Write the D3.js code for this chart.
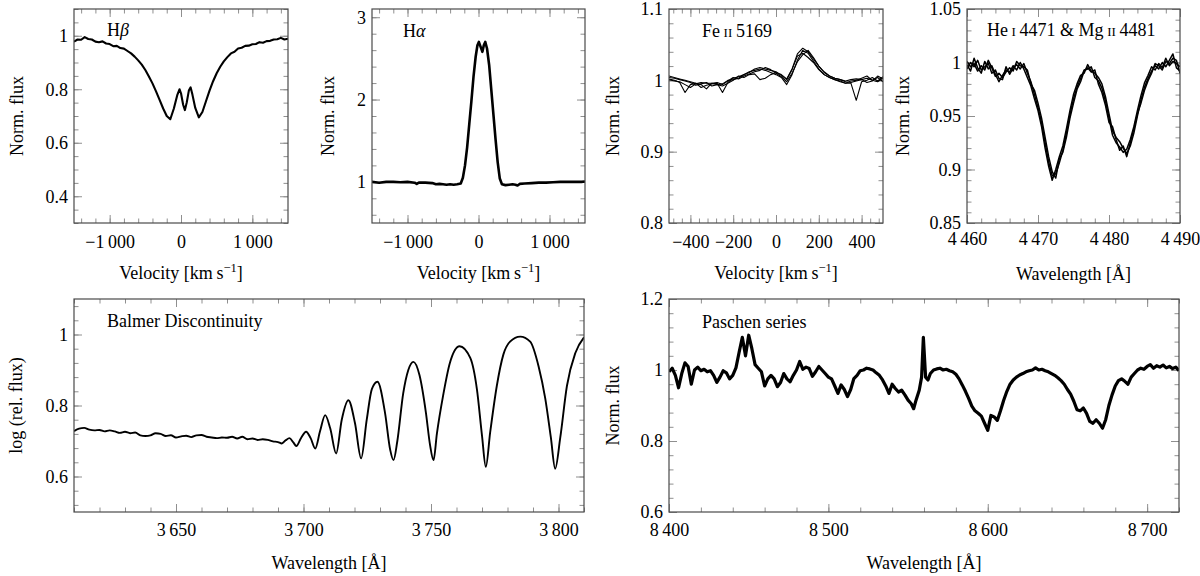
<!DOCTYPE html>
<html><head><meta charset="utf-8">
<script src="https://cdn.jsdelivr.net/npm/d3@7"></script>
<style>body{margin:0;background:#fff} svg{display:block} text{font-family:"Liberation Serif","Times New Roman",serif;}</style>
</head><body><svg id="c" width="1200" height="576"></svg>
<script>
// ---------------- DATA ----------------
// H beta
const hbVel = [-1500,-1450,-1400,-1350,-1300,-1250,-1200,-1150,-1100,-1050,-1000,-950,-900,-850,-800,-750,-700,-650,-600,-550,-500,-450,-400,-350,-300,-250,-200,-150,-100,-50,-20,0,30,55,80,110,135,160,200,250,300,350,400,450,500,550,600,650,700,750,800,850,900,950,1000,1050,1100,1150,1200,1250,1300,1350,1400,1450,1500];
const hbFlux = [0.978,0.986,0.985,0.995,0.988,0.986,0.978,0.976,0.979,0.971,0.969,0.961,0.962,0.954,0.952,0.943,0.934,0.922,0.908,0.892,0.872,0.848,0.822,0.792,0.760,0.728,0.700,0.688,0.728,0.780,0.800,0.785,0.742,0.722,0.750,0.795,0.807,0.780,0.730,0.695,0.715,0.755,0.795,0.830,0.860,0.884,0.904,0.920,0.934,0.940,0.952,0.955,0.962,0.963,0.968,0.969,0.976,0.974,0.980,0.981,0.986,0.987,0.992,0.986,0.989];
// H alpha
const haVel = [-1500,-1400,-1300,-1200,-1100,-1000,-900,-870,-840,-750,-650,-600,-550,-500,-450,-400,-350,-300,-250,-220,-190,-160,-130,-100,-70,-40,-15,5,30,55,75,95,120,150,180,210,240,270,300,330,380,430,480,520,550,580,650,750,850,950,1050,1150,1250,1350,1450,1500];
const haFlux = [1.000,0.990,1.000,1.000,0.995,1.000,0.990,0.975,0.990,0.990,0.985,0.970,0.975,0.970,0.965,0.970,0.965,0.970,0.980,1.050,1.200,1.420,1.700,1.980,2.280,2.520,2.660,2.700,2.640,2.580,2.660,2.700,2.620,2.420,2.120,1.820,1.520,1.240,1.040,0.970,0.960,0.965,0.970,0.965,0.955,0.975,0.980,0.985,0.990,0.990,0.995,1.000,1.000,1.000,1.000,1.005];
// Fe II 5169 (four epochs)
const feVel = [-500,-475,-450,-425,-400,-375,-350,-325,-300,-275,-250,-225,-200,-175,-150,-125,-100,-75,-50,-25,0,25,50,75,100,125,150,175,200,225,250,275,300,325,350,375,400,425,450,475,500];
const feFlux1 = [1.002,1.000,0.997,0.983,0.994,0.996,0.990,0.993,0.995,0.996,0.983,0.997,1.003,1.005,1.008,1.012,1.014,1.016,1.014,1.011,1.008,1.004,0.994,1.008,1.028,1.042,1.038,1.027,1.016,1.008,1.004,1.001,0.999,0.996,0.996,0.972,0.998,1.000,1.004,0.999,1.005];
const feFlux2 = [1.004,1.003,1.001,0.999,0.997,0.993,0.995,0.997,0.992,0.994,0.995,1.000,1.001,1.003,1.008,1.011,1.016,1.018,1.016,1.014,1.012,1.007,1.001,1.015,1.034,1.038,1.032,1.025,1.015,1.008,1.004,1.001,0.998,0.996,0.999,1.000,1.003,1.006,1.000,1.004,0.998];
const feFlux3 = [1.001,0.999,0.998,0.994,0.990,0.995,0.997,0.996,0.996,0.994,0.992,0.996,1.000,1.006,1.004,1.008,1.009,1.001,1.003,1.008,1.011,1.008,1.002,1.016,1.037,1.045,1.040,1.030,1.020,1.012,1.006,1.003,1.001,0.999,1.001,1.002,1.001,0.997,0.999,1.006,1.002];
const feFlux4 = [1.006,1.004,1.002,1.000,0.998,0.996,0.994,0.988,0.996,0.997,0.994,0.999,1.004,1.002,1.006,1.009,1.012,1.014,1.018,1.015,1.010,1.005,0.998,1.010,1.026,1.036,1.042,1.032,1.020,1.011,1.006,1.003,1.001,0.998,0.997,0.999,1.001,1.003,1.000,0.998,1.003];
// He I 4471 & Mg II 4481 (three epochs)
const heWave = [4460,4460.5,4461,4461.5,4462,4462.5,4463,4463.5,4464,4464.5,4465,4465.5,4466,4466.5,4467,4467.5,4468,4468.5,4469,4469.5,4470,4470.5,4471,4471.5,4472,4472.5,4473,4473.5,4474,4474.5,4475,4475.5,4476,4476.5,4477,4477.5,4478,4478.5,4479,4479.5,4480,4480.5,4481,4481.5,4482,4482.5,4483,4483.5,4484,4484.5,4485,4485.5,4486,4486.5,4487,4487.5,4488,4488.5,4489,4489.5,4490];
const heFlux1 = [0.998,0.992,1.004,0.995,0.990,1.001,0.994,0.997,0.989,0.982,0.988,0.993,0.991,0.997,0.993,1.000,0.994,0.986,0.978,0.966,0.955,0.940,0.920,0.903,0.890,0.900,0.912,0.922,0.938,0.955,0.970,0.980,0.988,0.990,0.998,0.992,0.990,0.986,0.980,0.968,0.952,0.936,0.930,0.926,0.920,0.915,0.922,0.934,0.950,0.965,0.977,0.985,0.992,0.997,0.994,1.000,0.996,1.002,1.008,0.995,0.992];
const heFlux2 = [0.994,1.000,0.996,1.002,0.993,0.996,0.999,0.990,0.993,0.985,0.984,0.996,0.989,0.995,0.998,0.994,0.999,0.990,0.982,0.970,0.958,0.944,0.925,0.907,0.894,0.896,0.906,0.918,0.934,0.951,0.966,0.977,0.985,0.993,0.994,0.996,0.986,0.983,0.976,0.964,0.948,0.932,0.925,0.921,0.916,0.919,0.928,0.940,0.955,0.969,0.981,0.988,0.996,0.993,0.999,0.995,1.004,0.997,1.001,0.999,0.996];
const heFlux3 = [1.001,0.996,0.999,0.992,0.997,0.993,1.002,0.995,0.987,0.990,0.986,0.991,0.995,0.992,1.001,0.997,0.996,0.993,0.980,0.974,0.962,0.948,0.930,0.912,0.898,0.892,0.910,0.916,0.930,0.948,0.962,0.975,0.982,0.992,0.995,0.991,0.993,0.980,0.972,0.960,0.944,0.940,0.928,0.918,0.922,0.912,0.925,0.938,0.952,0.962,0.974,0.983,0.990,0.999,0.997,0.993,1.001,0.999,1.004,1.002,0.990];
// Balmer discontinuity
const baWave = [3610,3612,3614,3616,3618,3620,3622,3624,3626,3628,3630,3632,3634,3636,3638,3640,3642,3644,3646,3648,3650,3652,3654,3656,3658,3660,3662,3664,3666,3668,3670,3672,3674,3676,3678,3680,3682,3684,3686,3688,3690,3691.5,3693,3694.5,3696,3697.2,3699,3701,3702.8,3704.6,3706.5,3708.5,3710.5,3712.8,3715,3717.6,3720.2,3722.6,3724.8,3726.8,3729,3732,3734,3735.3,3736.8,3739.1,3741.1,3743.1,3745.5,3748,3749.6,3751,3752.3,3754.8,3757.4,3761.2,3765.4,3768,3770,3771.5,3773.2,3775.8,3778.4,3781,3785,3788.9,3792.2,3794.8,3797,3798.7,3800.7,3803.3,3806.6,3810];
const baFlux = [0.728,0.735,0.737,0.732,0.730,0.731,0.727,0.730,0.727,0.723,0.726,0.722,0.724,0.716,0.714,0.716,0.722,0.720,0.714,0.716,0.710,0.713,0.715,0.711,0.716,0.717,0.712,0.710,0.708,0.710,0.709,0.712,0.707,0.712,0.705,0.707,0.703,0.705,0.703,0.699,0.697,0.693,0.702,0.708,0.696,0.686,0.708,0.726,0.708,0.679,0.728,0.773,0.735,0.665,0.760,0.815,0.750,0.651,0.760,0.846,0.867,0.778,0.675,0.646,0.700,0.834,0.900,0.923,0.885,0.780,0.690,0.646,0.720,0.830,0.920,0.967,0.934,0.846,0.715,0.627,0.724,0.855,0.944,0.980,0.994,0.980,0.910,0.820,0.710,0.622,0.710,0.855,0.948,0.992];
// Paschen series
const paWave = [8400,8402,8404,8406,8408,8410,8412,8414,8416,8418,8420,8422,8424,8426,8428,8430,8432,8434,8436,8438,8440,8442,8444,8446,8448,8450,8452,8454,8456,8458,8460,8462,8464,8466,8468,8470,8472,8474,8476,8478,8480,8482,8484,8486,8488,8490,8492,8494,8496,8498,8500,8502,8504,8506,8508,8510,8512,8514,8516,8518,8520,8522,8524,8526,8528,8530,8532,8534,8536,8538,8540,8542,8544,8546,8548,8550,8552,8553.5,8555,8557,8558.5,8559.6,8561,8562.5,8564,8566,8568,8570,8572,8574,8576,8578,8580,8582,8584,8586,8588,8590,8592,8594,8596,8598,8600,8602,8604,8606,8608,8610,8612,8614,8616,8618,8620,8622,8624,8626,8628,8630,8632,8634,8636,8638,8640,8642,8644,8646,8648,8650,8652,8654,8656,8658,8660,8662,8664,8666,8668,8670,8672,8674,8676,8678,8680,8682,8684,8686,8688,8690,8692,8694,8696,8698,8700,8702,8704,8706,8708,8710,8712,8714,8716,8718,8720];
const paFlux = [0.995,1.005,0.985,0.950,0.990,1.020,1.010,0.960,1.000,1.008,0.998,1.002,0.995,0.998,0.985,0.965,0.980,0.998,0.992,0.975,0.985,1.006,1.050,1.092,1.040,1.098,1.060,1.015,1.005,0.995,0.955,0.975,0.985,0.975,0.953,0.965,0.990,0.975,0.967,0.985,1.000,1.024,1.002,1.008,1.004,0.982,0.995,1.010,1.000,0.990,0.980,0.975,0.955,0.934,0.958,0.945,0.925,0.945,0.976,0.985,0.998,1.000,1.005,1.003,1.000,0.992,0.985,0.972,0.955,0.934,0.960,0.948,0.938,0.943,0.930,0.915,0.905,0.891,0.915,0.943,0.980,1.092,0.980,0.972,0.990,1.000,1.003,1.005,1.000,1.002,0.998,0.995,0.988,0.975,0.958,0.940,0.920,0.898,0.885,0.878,0.870,0.850,0.830,0.872,0.868,0.858,0.885,0.915,0.940,0.960,0.972,0.980,0.986,0.990,0.995,0.998,1.000,1.006,1.000,1.002,0.998,0.995,0.990,0.985,0.978,0.970,0.960,0.945,0.932,0.912,0.888,0.885,0.893,0.878,0.855,0.850,0.860,0.850,0.836,0.860,0.900,0.930,0.955,0.970,0.975,0.968,0.960,0.980,0.990,1.000,1.005,1.002,1.010,1.015,1.005,1.012,1.008,1.014,1.006,1.010,1.004,1.008,0.998];

// ---------------- TICKS ----------------
const velTicks = [-1000, 0, 1000];
const velTickLabels = ["\u22121\u2009000", "0", "1\u2009000"];
const hbYTicks = [0.4, 0.6, 0.8, 1];
const hbYTickLabels = ["0.4", "0.6", "0.8", "1"];
const haYTicks = [1, 2, 3];
const haYTickLabels = ["1", "2", "3"];
const feXTicks = [-400, -200, 0, 200, 400];
const feXTickLabels = ["\u2212400", "\u2212200", "0", "200", "400"];
const feYTicks = [0.8, 0.9, 1, 1.1];
const feYTickLabels = ["0.8", "0.9", "1", "1.1"];
const heXTicks = [4460, 4470, 4480, 4490];
const heXTickLabels = ["4\u2009460", "4\u2009470", "4\u2009480", "4\u2009490"];
const heYTicks = [0.85, 0.9, 0.95, 1, 1.05];
const heYTickLabels = ["0.85", "0.9", "0.95", "1", "1.05"];
const baXTicks = [3650, 3700, 3750, 3800];
const baXTickLabels = ["3\u2009650", "3\u2009700", "3\u2009750", "3\u2009800"];
const baYTicks = [0.6, 0.8, 1];
const baYTickLabels = ["0.6", "0.8", "1"];
const paXTicks = [8400, 8500, 8600, 8700];
const paXTickLabels = ["8\u2009400", "8\u2009500", "8\u2009600", "8\u2009700"];
const paYTicks = [0.6, 0.8, 1, 1.2];
const paYTickLabels = ["0.6", "0.8", "1", "1.2"];

// ---------------- DRAWING ----------------
const svg = d3.select("#c");
const FONT = 18;
const tickCol = "#8f8f8f";
let clipId = 0;

function minorVals(dom, step){
  const s = Math.ceil(dom[0]/step - 1e-9), e = Math.floor(dom[1]/step + 1e-9);
  const out = [];
  for (let i = s; i <= e; i++) out.push(+(i*step).toFixed(6));
  return out;
}

function panel(o){
  const g = svg.append("g");
  const x = d3.scaleLinear().domain(o.xDomain).range([o.left, o.right]);
  const y = d3.scaleLinear().domain(o.yDomain).range([o.bottom, o.top]);

  function ax(gen, tr, vals, size, labels){
    const a = g.append("g").attr("transform", tr)
      .call(gen.tickValues(vals).tickSizeInner(size).tickSizeOuter(0).tickPadding(6)
        .tickFormat(labels ? ((d,i) => labels[i]) : (() => "")));
    a.select(".domain").remove();
    a.selectAll(".tick line").attr("stroke", tickCol).attr("stroke-width", 1);
    a.attr("font-family", null).attr("font-size", null);
    a.selectAll("text").attr("fill", "#000").style("font-size", FONT + "px");
    return a;
  }
  const mx = minorVals(o.xDomain, o.xMinor), my = minorVals(o.yDomain, o.yMinor);
  ax(d3.axisBottom(x), `translate(0,${o.bottom})`, mx, -4.5, null);
  ax(d3.axisTop(x), `translate(0,${o.top})`, mx, -4.5, null);
  ax(d3.axisLeft(y), `translate(${o.left},0)`, my, -4.5, null);
  ax(d3.axisRight(y), `translate(${o.right},0)`, my, -4.5, null);
  const bx = ax(d3.axisBottom(x), `translate(0,${o.bottom})`, o.xTicks, -8, o.xTickLabels);
  bx.selectAll("text").attr("y", o.xTickBase - o.bottom).attr("dy", null);
  ax(d3.axisTop(x), `translate(0,${o.top})`, o.xTicks, -8, null);
  const ly = ax(d3.axisLeft(y), `translate(${o.left},0)`, o.yTicks, -8, o.yTickLabels);
  ly.selectAll("text").attr("x", -6).attr("dy", "0.33em");
  ax(d3.axisRight(y), `translate(${o.right},0)`, o.yTicks, -8, null);

  const id = "clip" + (clipId++);
  g.append("clipPath").attr("id", id).append("rect")
    .attr("x", o.left).attr("y", o.top).attr("width", o.right - o.left).attr("height", o.bottom - o.top);
  const line = d3.line().x(d => x(d[0])).y(d => y(d[1])).curve(o.curve || d3.curveLinear);
  o.series.forEach(s => {
    const pts = s.x.map((v, i) => [v, s.y[i]]);
    g.append("path").attr("clip-path", `url(#${id})`).attr("d", line(pts))
      .attr("fill", "none").attr("stroke", "#000").attr("stroke-width", o.lw)
      .attr("stroke-linejoin", "round");
  });

  g.append("rect").attr("x", o.left).attr("y", o.top)
    .attr("width", o.right - o.left).attr("height", o.bottom - o.top)
    .attr("fill", "none").attr("stroke", "#4a4a4a").attr("stroke-width", 1.2);

  const t = g.append("text").attr("x", o.left + o.titleDx).attr("y", o.top + o.titleDy)
    .style("font-size", FONT + "px");
  o.title(t);

  const xl = g.append("text").attr("x", (o.left + o.right) / 2).attr("y", o.xLabelBase)
    .attr("text-anchor", "middle").style("font-size", FONT + "px");
  o.xLabel(xl);
  g.append("text").attr("transform", `translate(${o.yLabelX},${(o.top + o.bottom) / 2}) rotate(-90)`)
    .attr("text-anchor", "middle").attr("dominant-baseline", "central")
    .style("font-size", FONT + "px").text(o.yLabel);
}

function velLabel(t){
  t.append("tspan").text("Velocity [km\u2009s");
  t.append("tspan").attr("dy", -7).style("font-size", "12.5px").text("\u22121");
  t.append("tspan").attr("dy", 7).text("]");
}
function waveLabel(t){ t.text("Wavelength [\u00C5]"); }

const TOP = 9, BOT = 223, TOP2 = 299, BOT2 = 512;

panel({left: 74, right: 288, top: TOP, bottom: BOT, xDomain: [-1500, 1500], yDomain: [0.3, 1.1],
  xTicks: velTicks, xTickLabels: velTickLabels, yTicks: hbYTicks, yTickLabels: hbYTickLabels,
  xMinor: 200, yMinor: 0.05, xTickBase: 248, xLabelBase: 279, yLabelX: 17,
  titleDx: 33, titleDy: 27, lw: 2.1,
  title: t => { t.append("tspan").text("H"); t.append("tspan").style("font-style", "italic").text("\u03B2"); },
  xLabel: velLabel, yLabel: "Norm. flux",
  series: [{x: hbVel, y: hbFlux}]});

panel({left: 372, right: 585, top: TOP, bottom: BOT, xDomain: [-1500, 1500], yDomain: [0.5, 3.1],
  xTicks: velTicks, xTickLabels: velTickLabels, yTicks: haYTicks, yTickLabels: haYTickLabels,
  xMinor: 200, yMinor: 0.2, xTickBase: 248, xLabelBase: 279, yLabelX: 328,
  titleDx: 31, titleDy: 28, lw: 2.6,
  title: t => { t.append("tspan").text("H"); t.append("tspan").style("font-style", "italic").text("\u03B1"); },
  xLabel: velLabel, yLabel: "Norm. flux",
  series: [{x: haVel, y: haFlux}]});

panel({left: 669, right: 883, top: TOP, bottom: BOT, xDomain: [-500, 500], yDomain: [0.8, 1.1],
  xTicks: feXTicks, xTickLabels: feXTickLabels, yTicks: feYTicks, yTickLabels: feYTickLabels,
  xMinor: 40, yMinor: 0.02, xTickBase: 248, xLabelBase: 279, yLabelX: 613,
  titleDx: 33, titleDy: 28, lw: 1.1,
  title: t => { t.append("tspan").text("Fe\u2009"); t.append("tspan").style("font-size", "13px").text("II"); t.append("tspan").text("\u20095169"); },
  xLabel: velLabel, yLabel: "Norm. flux",
  series: [{x: feVel, y: feFlux1}, {x: feVel, y: feFlux2}, {x: feVel, y: feFlux3}, {x: feVel, y: feFlux4}]});

panel({left: 967, right: 1180, top: TOP, bottom: BOT, xDomain: [4460, 4490], yDomain: [0.85, 1.05],
  xTicks: heXTicks, xTickLabels: heXTickLabels, yTicks: heYTicks, yTickLabels: heYTickLabels,
  xMinor: 2, yMinor: 0.01, xTickBase: 245, xLabelBase: 280, yLabelX: 903,
  titleDx: 20, titleDy: 27, lw: 1.5,
  title: t => { t.append("tspan").text("He\u2009"); t.append("tspan").style("font-size", "13px").text("I");
    t.append("tspan").text("\u20094471 & Mg\u2009"); t.append("tspan").style("font-size", "13px").text("II");
    t.append("tspan").text("\u20094481"); },
  xLabel: waveLabel, yLabel: "Norm. flux",
  series: [{x: heWave, y: heFlux1}, {x: heWave, y: heFlux2}, {x: heWave, y: heFlux3}]});

panel({left: 74, right: 584, top: TOP2, bottom: BOT2, xDomain: [3610, 3810], yDomain: [0.5, 1.1],
  xTicks: baXTicks, xTickLabels: baXTickLabels, yTicks: baYTicks, yTickLabels: baYTickLabels,
  xMinor: 10, yMinor: 0.04, xTickBase: 536, xLabelBase: 569, yLabelX: 16,
  titleDx: 33, titleDy: 28, lw: 1.9, curve: d3.curveMonotoneX,
  title: t => t.text("Balmer Discontinuity"),
  xLabel: waveLabel, yLabel: "log (rel. flux)",
  series: [{x: baWave, y: baFlux}]});

panel({left: 669, right: 1179, top: TOP2, bottom: BOT2, xDomain: [8400, 8720], yDomain: [0.6, 1.2],
  xTicks: paXTicks, xTickLabels: paXTickLabels, yTicks: paYTicks, yTickLabels: paYTickLabels,
  xMinor: 20, yMinor: 0.04, xTickBase: 536, xLabelBase: 569, yLabelX: 613,
  titleDx: 33, titleDy: 29, lw: 3.2,
  title: t => t.text("Paschen series"),
  xLabel: waveLabel, yLabel: "Norm. flux",
  series: [{x: paWave, y: paFlux}]});
</script></body></html>
